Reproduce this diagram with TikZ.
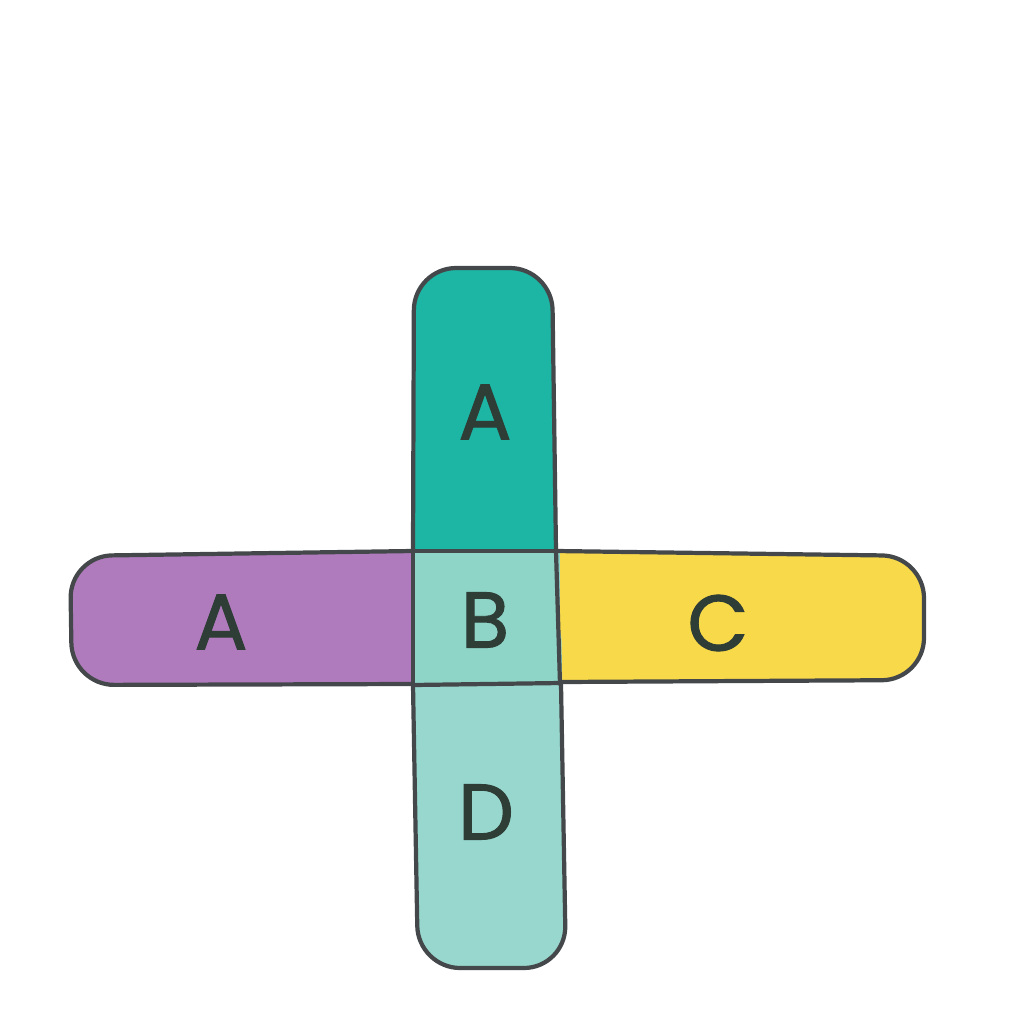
\documentclass[tikz,border=0pt]{standalone}
\usepackage{fontspec}
\setmainfont{Poppins}
\newfontfamily\labfont{Poppins}[FakeBold=1.2]
\definecolor{tealA}{HTML}{1DB5A3}
\definecolor{tealB}{HTML}{8ED5C7}
\definecolor{tealD}{HTML}{97D7CD}
\definecolor{purp}{HTML}{B07BBD}
\definecolor{yell}{HTML}{F8D94A}
\definecolor{ink}{HTML}{45484A}
\definecolor{letter}{HTML}{2E3D36}
\tikzset{
  outline/.style={draw=ink, line width=2.4pt, line join=round, line cap=round},
  label/.style={font=\labfont\fontsize{45}{45}\selectfont, text=letter, inner sep=0pt}
}
\begin{document}
\begin{tikzpicture}[x=0.02cm, y=-0.02cm]
\useasboundingbox[fill=white] (0,0) rectangle (1024,1024);
% fills
\fill[purp, rounded corners=24pt] (480,551) -- (70,556) -- (72,685) -- (480,684) -- cycle;
\fill[yell, rounded corners=24pt] (480,551) -- (924,556) -- (924,680) -- (480,682) -- cycle;
\fill[tealA, rounded corners=24pt] (413,640) -- (414,268) -- (552,268) -- (558,640) -- cycle;
\fill[tealD, rounded corners=24pt] (413,600) -- (418,968) -- (566,968) -- (561,600) -- cycle;
\fill[tealB] (413,551) rectangle (560,684);
% outlines
\draw[outline, rounded corners=24pt] (413,551) -- (414,268) -- (552,268) -- (556,551);
\draw[outline] (556,551) -- (560,684);
\draw[outline] (413,551) -- (413,685);
\draw[outline, rounded corners=24pt] (413,685) -- (418,968) -- (566,968) -- (561,684);
\draw[outline, rounded corners=24pt] (413,551) -- (70,556) -- (72,685) -- (413,684);
\draw[outline, rounded corners=24pt] (556,551) -- (924,556) -- (924,680) -- (561,682);
\draw[outline] (413,551) -- (556,551);
\draw[outline] (413,685) -- (561,683);
% labels
\node[label] (a1) at (485,412) {A};
\node[label] (a2) at (221,622) {A};
\node[label] (b) at (485,620) {B};
\node[label] (c) at (718,623) {C};
\node[label] (d) at (486,812) {D};
\end{tikzpicture}
\end{document}
